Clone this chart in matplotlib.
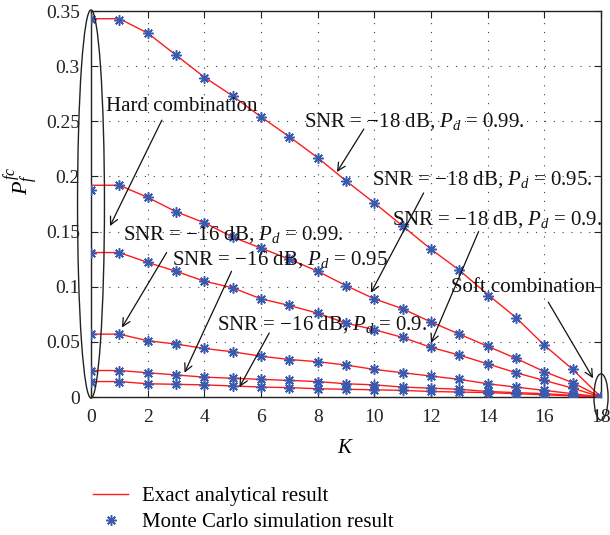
import matplotlib
matplotlib.use("Agg")
import matplotlib.pyplot as plt
from matplotlib.patches import Ellipse
from matplotlib.lines import Line2D

plt.rcParams['font.family'] = ['Liberation Serif', 'DejaVu Serif']
plt.rcParams['mathtext.fontset'] = 'custom'
plt.rcParams['mathtext.rm'] = 'Liberation Serif'
plt.rcParams['mathtext.it'] = 'Liberation Serif:italic'
plt.rcParams['mathtext.bf'] = 'Liberation Serif:bold'

K = list(range(19))

# Exact analytical results
snr18_pd099 = [0.343, 0.343, 0.330, 0.310, 0.290, 0.273, 0.254, 0.236, 0.217, 0.196,
               0.176, 0.155, 0.134, 0.115, 0.093, 0.072, 0.047, 0.025, 0.0]
snr18_pd095 = [0.192, 0.192, 0.181, 0.168, 0.158, 0.145, 0.135, 0.125, 0.114, 0.101,
               0.089, 0.080, 0.068, 0.057, 0.046, 0.035, 0.023, 0.013, 0.0]
snr18_pd09 = [0.131, 0.131, 0.122, 0.114, 0.105, 0.099, 0.089, 0.083, 0.076, 0.067,
              0.061, 0.054, 0.045, 0.038, 0.030, 0.022, 0.015, 0.008, 0.0]
snr16_pd099 = [0.057, 0.057, 0.051, 0.048, 0.044, 0.041, 0.037, 0.034, 0.032, 0.029,
               0.025, 0.022, 0.019, 0.016, 0.012, 0.009, 0.006, 0.003, 0.0]
snr16_pd095 = [0.024, 0.024, 0.022, 0.020, 0.018, 0.017, 0.016, 0.015, 0.014, 0.012,
               0.011, 0.009, 0.008, 0.007, 0.005, 0.004, 0.003, 0.0015, 0.0]
snr16_pd09 = [0.014, 0.014, 0.012, 0.0115, 0.011, 0.010, 0.009, 0.0085, 0.0075, 0.007,
              0.0065, 0.006, 0.005, 0.0045, 0.004, 0.003, 0.002, 0.001, 0.0]

# Monte Carlo simulation results
sim18_pd099 = [0.343, 0.342, 0.330, 0.310, 0.289, 0.273, 0.254, 0.236, 0.217, 0.196,
               0.176, 0.155, 0.134, 0.115, 0.092, 0.072, 0.047, 0.025, 0.0]
sim18_pd095 = [0.188, 0.192, 0.181, 0.168, 0.158, 0.145, 0.135, 0.125, 0.114, 0.101,
               0.089, 0.080, 0.068, 0.057, 0.046, 0.035, 0.023, 0.013, 0.0]
sim18_pd09 = snr18_pd09
sim16_pd099 = snr16_pd099
sim16_pd095 = snr16_pd095
sim16_pd09 = snr16_pd09

analytical = [snr18_pd099, snr18_pd095, snr18_pd09, snr16_pd099, snr16_pd095, snr16_pd09]
simulated = [sim18_pd099, sim18_pd095, sim18_pd09, sim16_pd099, sim16_pd095, sim16_pd09]

xticks = list(range(0, 19, 2))
yticks = [0, 0.05, 0.1, 0.15, 0.2, 0.25, 0.3, 0.35]
ytick_labels = ['0', '0.05', '0.1', '0.15', '0.2', '0.25', '0.3', '0.35']

RED = '#ff1a1a'
BLUE = '#3c5aad'
FS = 14
TFS = 15
MARK = dict(linestyle='none', marker=(8, 2, 0), markersize=7.5,
            markeredgewidth=1.1, color=BLUE)

fig = plt.figure(figsize=(6.1, 5.35), dpi=100)
ax = fig.add_axes([91/610, 1-397/535, 510/610, 386/535])

for a, s in zip(analytical, simulated):
    ax.plot(K, a, color=RED, lw=1.0, zorder=3)
    ax.plot(K, s, zorder=4, **MARK)

ax.set_xlim(0, 18)
ax.set_ylim(0, 0.35)
ax.set_xticks(xticks)
ax.set_yticks(yticks)
ax.set_yticklabels(ytick_labels)
ax.tick_params(direction='in', length=5, width=0.8, top=True, right=True,
               labelsize=FS, pad=8, colors='#222222')
ax.tick_params(axis='x', pad=9)
for sp in ax.spines.values():
    sp.set_linewidth(1.0)
    sp.set_color('#222222')
ax.grid(True, color='#444444', linestyle=(0, (1, 7)), linewidth=0.8)
ax.set_axisbelow(True)

ax.set_xlabel(r'$K$', fontsize=FS + 1, labelpad=9)
ax.set_ylabel(r'$P_f^{fc}$', fontsize=FS + 2, labelpad=2)
ax.yaxis.set_label_coords(-0.098, 0.56)

# Ellipses
ax.add_patch(Ellipse((0, 0.175), 0.95, 0.352, fill=False, color='#222222',
                     lw=1.0, clip_on=False, zorder=5))
ax.add_patch(Ellipse((18, 0.0), 0.5, 0.042, fill=False, color='#222222',
                     lw=1.0, clip_on=False, zorder=5))

arrow = dict(arrowstyle='->', color='#111111', lw=0.9, shrinkA=0, shrinkB=0,
             mutation_scale=14)

def arr(start, end):
    ax.annotate('', xy=end, xytext=start, arrowprops=arrow, zorder=6,
                annotation_clip=False)

def label(x, y, s):
    ax.text(x, y, s, fontsize=TFS, va='center', ha='left', color='#111111', zorder=6)

label(0.53, 0.263, 'Hard combination')
arr((2.5, 0.251), (0.67, 0.155))

label(7.52, 0.250, r'SNR = −18 dB, $P_d$ = 0.99.')
arr((9.63, 0.243), (8.68, 0.204))

label(9.92, 0.197, r'SNR = −18 dB, $P_d$ = 0.95.')
arr((11.74, 0.185), (9.88, 0.0945))

label(10.62, 0.161, r'SNR = −18 dB, $P_d$ = 0.9.')
arr((13.68, 0.150), (12.0, 0.049))

label(1.13, 0.147, r'SNR = −16 dB, $P_d$ = 0.99.')
arr((2.67, 0.131), (1.09, 0.063))

label(2.85, 0.1245, r'SNR = −16 dB, $P_d$ = 0.95')
arr((4.96, 0.114), (3.3, 0.022))

label(4.43, 0.0655, r'SNR = −16 dB, $P_d$ = 0.9.')
arr((6.29, 0.058), (5.24, 0.009))

label(12.69, 0.099, 'Soft combination')
arr((16.14, 0.086), (17.72, 0.017))

handles = [Line2D([], [], color=RED, lw=1.0), Line2D([], [], **MARK)]
labels = ['Exact analytical result', 'Monte Carlo simulation result']
fig.legend(handles, labels, loc='center left', bbox_to_anchor=(93/610, 1-509.5/535),
           frameon=False, fontsize=TFS, handlelength=1.7, handletextpad=0.65,
           labelspacing=0.3, borderpad=0, borderaxespad=0)

fig.savefig('out.png', dpi=100)
